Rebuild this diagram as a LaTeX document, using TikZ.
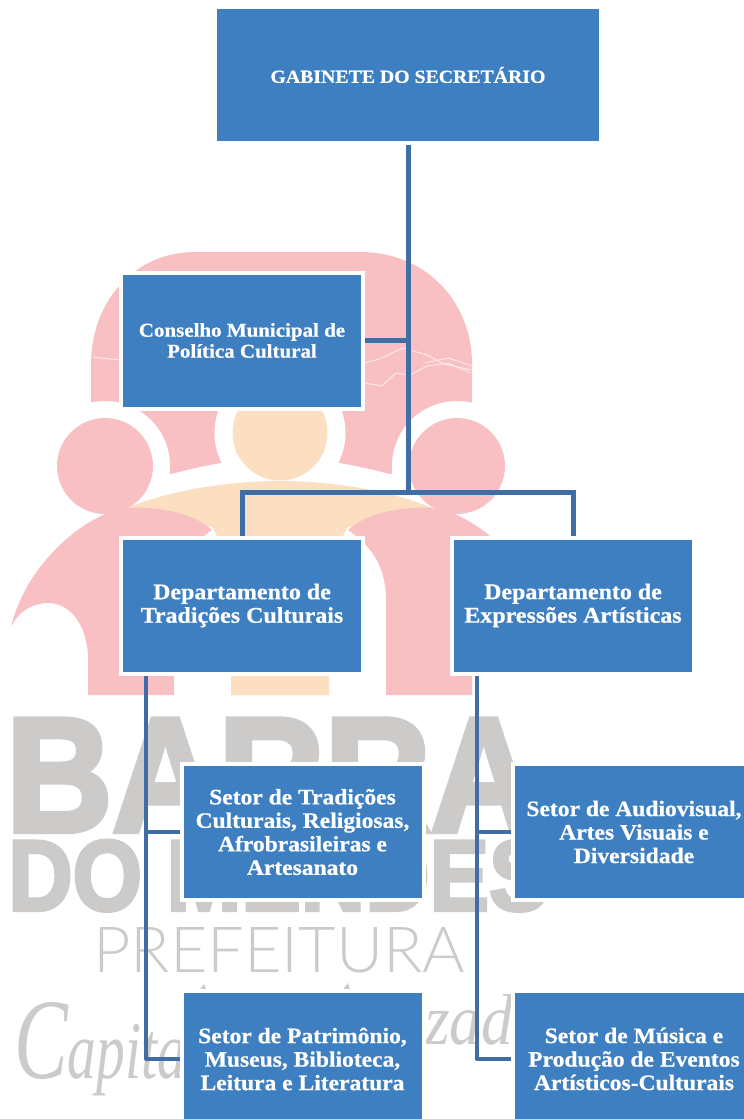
\documentclass[tikz,border=0pt]{standalone}
\usepackage{fontspec}
\setmainfont{Liberation Serif}[BoldFeatures={FakeBold=0.6,FakeStretch=1.07}]
\newfontfamily\wmbold{Liberation Sans}[BoldFeatures={FakeBold=3.5}]
\newfontfamily\wmlight{Lato Light}
\definecolor{boxblue}{HTML}{3E7FC1}
\definecolor{linkblue}{HTML}{3F6EA6}
\definecolor{wmpink}{HTML}{F9C0C4}
\definecolor{wmpeach}{HTML}{FBDFC0}
\definecolor{wmgray}{HTML}{CDCBC9}
\tikzset{
  orgbox/.style={draw=white,line width=4pt,fill=boxblue,text=white,inner sep=0pt,align=center,
     minimum width=242pt,minimum height=136pt,font=\fontsize{22}{23.5}\selectfont\bfseries},
  midbox/.style={orgbox,font=\fontsize{19.6}{21}\selectfont\bfseries},
  bigbox/.style={orgbox,font=\fontsize{22.4}{23.5}\selectfont\bfseries},
  link/.style={draw=linkblue,line width=5pt},
  thin link/.style={draw=linkblue,line width=4pt,line join=round},
  ridge/.style={draw=white!70!wmpink,line width=0.9pt},
  wmtext/.style={text=wmgray,inner sep=0pt,anchor=north west},
}
\begin{document}
\begin{tikzpicture}[x=1pt,y=-1pt]
\useasboundingbox (0,0) rectangle (744,1119);
\clip (0,0) rectangle (744,1119);
% --- watermark: logo ---
\fill[wmpink] (91,402) -- (91,360) .. controls (93,300) and (135,252) .. (195,252) -- (360,252)
  .. controls (425,252) and (470,300) .. (472,360) -- (472,402) -- (472,440) -- (390,474)
  .. controls (350,464) and (320,458) .. (280,458) .. controls (240,458) and (210,464) .. (171,474) -- (91,440) -- cycle;
\fill[white] (105,466) circle[radius=65];
\fill[white] (457,466) circle[radius=65];
\fill[white] (280,433) circle[radius=65.5];
\fill[white] (60,470) rectangle (105,520);
\fill[white] (457,470) rectangle (500,520);
\fill[wmpink] (105,466) circle[radius=48];
\fill[wmpink] (457,466) circle[radius=48];
\fill[wmpeach] (280,433) circle[radius=47.5];
\fill[wmpeach] (127,508) .. controls (170,490) and (230,481) .. (280,481) .. controls (330,481) and (390,490) .. (432,508)
  -- (348,527) -- (329,560) -- (329,695) -- (231,695) -- (231,560) -- (212,527) -- cycle;
\fill[wmpink] (11,627) .. controls (22,580) and (60,535) .. (103,515) .. controls (120,507) and (135,507) .. (148,508)
  .. controls (175,510) and (198,517) .. (212,530) .. controls (190,545) and (174,565) .. (174,600) -- (174,695) -- (88,695)
  -- (88,660) .. controls (88,625) and (70,603) .. (48,603) .. controls (32,603) and (18,612) .. (11,627) -- cycle;
\fill[wmpink] (549,627) .. controls (538,580) and (500,535) .. (457,515) .. controls (440,507) and (425,507) .. (412,508)
  .. controls (385,510) and (362,517) .. (348,530) .. controls (370,545) and (386,565) .. (386,600) -- (386,695) -- (472,695)
  -- (472,660) .. controls (472,625) and (490,603) .. (512,603) .. controls (528,603) and (542,612) .. (549,627) -- cycle;
\draw[ridge] (92,357) -- (120,360);
\draw[ridge] (365,363) -- (379,359) -- (403,348) -- (427,355) -- (444,364) -- (472,370);
\draw[ridge] (365,383) -- (382,386) -- (396,373) -- (410,375) -- (427,366) -- (448,363) -- (471,373);
\draw[ridge] (425,363) -- (448,358) -- (472,366);
% --- watermark: lettering ---
\node[wmtext] (wmbarra) at (6,719) {\resizebox{530pt}{112pt}{\wmbold\bfseries BARRA}};
\node[wmtext] (wmdo) at (8,840) {\resizebox{540pt}{70pt}{\wmbold\bfseries DO MENDES}};
\node[wmtext] (wmpref) at (93,927) {\resizebox{372pt}{45pt}{\wmlight PREFEITURA}};
\node[wmtext] (wmcap) at (14,1002) {\resizebox{172pt}{76pt}{\itshape\fontsize{10}{10}\selectfont{\fontsize{14}{14}\selectfont C}apita}};
\node[wmtext] (wmzad) at (425,994) {\resizebox{88pt}{50pt}{\itshape zad}};
\fill[wmgray] (197,993) -- (204,984) -- (208,993) -- cycle;
\fill[wmgray] (340,993) -- (348,983) -- (351,993) -- cycle;
% --- boxes ---
\node[midbox] (gab) at (408,75) [minimum width=386pt,minimum height=136pt,font=\fontsize{18.5}{23.5}\selectfont\bfseries] {GABINETE DO SECRETÁRIO};
\node[midbox] (cons) at (242,340.5) {Conselho Municipal de\\Política Cultural};
\node[bigbox] (dep1) at (242,605.5) {Departamento de\\Tradições Culturais};
\node[bigbox] (dep2) at (573,605.5) {Departamento de\\Expressões Artísticas};
\node[orgbox] (s1) at (302.5,832) {Setor de Tradições\\Culturais, Religiosas,\\Afrobrasileiras e\\Artesanato};
\node[orgbox] (s2) at (634,832) {Setor de Audiovisual,\\Artes Visuais e\\Diversidade};
\node[orgbox] (s3) at (302.5,1059) {Setor de Patrimônio,\\Museus, Biblioteca,\\Leitura e Literatura};
\node[orgbox] (s4) at (634,1059) {Setor de Música e\\Produção de Eventos\\Artísticos-Culturais};
% --- connectors ---
\coordinate (jn) at (gab.south |- 0,492);
\coordinate (tl) at (dep1.south -| 146,0);
\coordinate (tr) at (dep2.south -| 477,0);
\draw[link] (gab.south) -- (jn);
\draw[link] (cons.east) -- (cons.east -| gab.south);
\draw[link] (dep1.north) |- (jn) -| (dep2.north);
\draw[thin link] (tl) |- (s1.west);
\draw[thin link] (tl) |- (s3.west);
\draw[thin link] (tr) |- (s2.west);
\draw[thin link] (tr) |- (s4.west);
\end{tikzpicture}
\end{document}
